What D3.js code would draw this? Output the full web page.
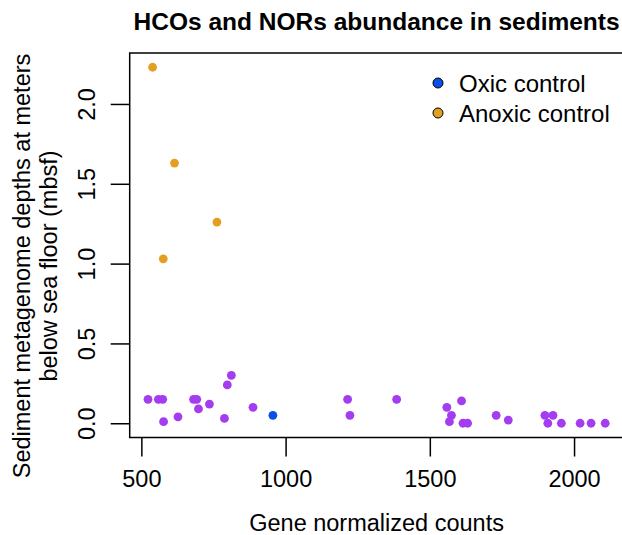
<!DOCTYPE html>
<html>
<head>
<meta charset="utf-8">
<script src="https://cdn.jsdelivr.net/npm/d3@7"></script>
<style>
body { margin: 0; background: #fff; }
text { font-family: "Liberation Sans", Arial, sans-serif; fill: #000; }
</style>
</head>
<body>
<script>
// data
// sediment samples (purple)
var SAMPLE_X = [523, 559, 574, 577, 627, 681, 692, 698, 736, 788, 798, 812, 887,
    1215, 1223, 1385, 1559, 1610, 1575, 1568, 1615, 1631, 1730, 1772,
    1899, 1927, 1909, 1956, 2021, 2059, 2108];
var SAMPLE_Y = [0.15, 0.15, 0.15, 0.01, 0.04, 0.15, 0.15, 0.09, 0.12, 0.03, 0.24, 0.30, 0.10,
    0.15, 0.05, 0.15, 0.10, 0.14, 0.05, 0.01, 0, 0, 0.05, 0.02,
    0.05, 0.05, 0, 0, 0, 0, 0];
// controls
var OXIC_X = [956];
var OXIC_Y = [0.05];
var ANOXIC_X = [539, 615, 762, 576];
var ANOXIC_Y = [2.23, 1.63, 1.26, 1.03];
// ticks and labels
var X_TICKS = [500, 1000, 1500, 2000];
var Y_TICKS = [0, 0.5, 1, 1.5, 2];
var LEGEND_LABELS = ["Oxic control", "Anoxic control"];

var COLORS = {sample: "#a43cf0", oxic: "#0a50e8", anoxic: "#e3a020"};

var W = 622, H = 535;
var svg = d3.select("body").append("svg").attr("width", W).attr("height", H);

// R style 4% padding on the data range
function padded(vals) {
    var lo = d3.min(vals), hi = d3.max(vals), d = (hi - lo) * 0.04;
    return [lo - d, hi + d];
}
var allX = SAMPLE_X.concat(OXIC_X, ANOXIC_X);
var allY = SAMPLE_Y.concat(OXIC_Y, ANOXIC_Y);

var xScale = d3.scaleLinear().domain(padded(allX)).range([129.7, 623.5]);
var yScale = d3.scaleLinear().domain(padded(allY)).range([437.5, 53]);

// axes
var xAxis = d3.axisBottom(xScale).tickValues(X_TICKS).tickSize(19).tickPadding(14)
    .tickFormat(d3.format("d"));
var gx = svg.append("g").attr("transform", "translate(0," + yScale.range()[0] + ")").call(xAxis);
gx.select(".domain").remove();
gx.selectAll("line").attr("stroke", "#000").attr("stroke-width", 1.5);
gx.selectAll("text").attr("font-size", 23.5).attr("font-family", "Liberation Sans, Arial, sans-serif");

var yAxis = d3.axisLeft(yScale).tickValues(Y_TICKS).tickSize(19).tickFormat(d3.format(".1f"));
var gy = svg.append("g").attr("transform", "translate(" + xScale.range()[0] + ",0)").call(yAxis);
gy.select(".domain").remove();
gy.selectAll("line").attr("stroke", "#000").attr("stroke-width", 1.5);
gy.selectAll("text")
    .attr("font-size", 23.5).attr("font-family", "Liberation Sans, Arial, sans-serif")
    .attr("x", null).attr("dy", null)
    .attr("text-anchor", "middle")
    .attr("transform", "translate(-35,0) rotate(-90)");

// plot box
svg.append("rect")
    .attr("x", xScale.range()[0]).attr("y", yScale.range()[1])
    .attr("width", xScale.range()[1] - xScale.range()[0])
    .attr("height", yScale.range()[0] - yScale.range()[1])
    .attr("fill", "none").attr("stroke", "#000").attr("stroke-width", 1.5);

// points
function drawPoints(xs, ys, color) {
    svg.append("g").selectAll("circle").data(d3.range(xs.length)).enter().append("circle")
        .attr("cx", function (i) { return xScale(xs[i]); })
        .attr("cy", function (i) { return yScale(ys[i]); })
        .attr("r", 4.4)
        .attr("fill", color);
}
drawPoints(SAMPLE_X, SAMPLE_Y, COLORS.sample);
drawPoints(OXIC_X, OXIC_Y, COLORS.oxic);
drawPoints(ANOXIC_X, ANOXIC_Y, COLORS.anoxic);

// legend
var legend = svg.append("g").selectAll("g").data(LEGEND_LABELS).enter().append("g")
    .attr("transform", function (d, i) { return "translate(438," + (83 + i * 30) + ")"; });
legend.append("circle").attr("r", 5)
    .attr("fill", function (d, i) { return i === 0 ? COLORS.oxic : COLORS.anoxic; })
    .attr("stroke", "#000").attr("stroke-width", 1);
legend.append("text").attr("x", 21).attr("y", 8.5).attr("font-size", 24).text(function (d) { return d; });

// title and axis labels
var cx = (xScale.range()[0] + xScale.range()[1]) / 2;
svg.append("text").attr("x", cx).attr("y", 30).attr("text-anchor", "middle")
    .attr("font-size", 24.5).attr("font-weight", "bold")
    .text("HCOs and NORs abundance in sediments");
svg.append("text").attr("x", cx).attr("y", 531).attr("text-anchor", "middle")
    .attr("font-size", 23.5).text("Gene normalized counts");

var cy = 266;
svg.append("text").attr("transform", "translate(30," + cy + ") rotate(-90)")
    .attr("text-anchor", "middle").attr("font-size", 23.5)
    .text("Sediment metagenome depths at meters");
svg.append("text").attr("transform", "translate(57," + cy + ") rotate(-90)")
    .attr("text-anchor", "middle").attr("font-size", 23.5)
    .text("below sea floor (mbsf)");
</script>
</body>
</html>
